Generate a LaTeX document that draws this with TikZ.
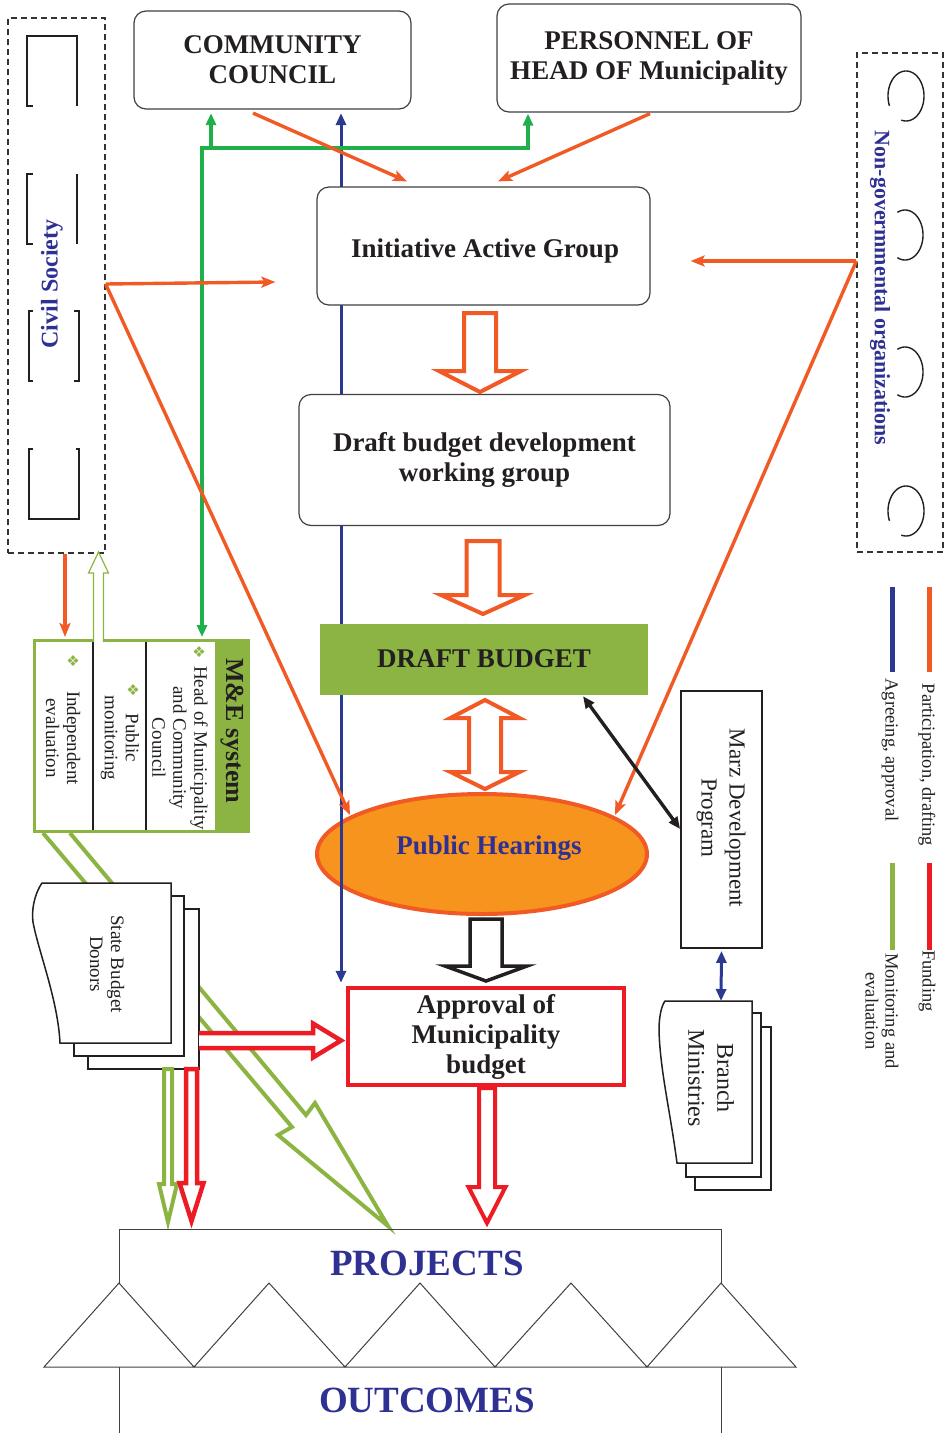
\documentclass[tikz,border=0pt]{standalone}
\usepackage{fontspec}
\setmainfont{Liberation Serif}
\newfontfamily\dejavu{DejaVu Sans}
\usetikzlibrary{arrows.meta,shapes.geometric}
\definecolor{orng}{HTML}{F15A24}
\definecolor{ellfill}{HTML}{F7941D}
\definecolor{olivec}{HTML}{8CB443}
\definecolor{grnc}{HTML}{1FAF4B}
\definecolor{navyc}{HTML}{2E3192}
\definecolor{bluec}{HTML}{2B3990}
\definecolor{redc}{HTML}{ED1C24}
\definecolor{txtc}{HTML}{231F20}
\newcommand{\fsz}[2]{\fontsize{#1}{#2}\selectfont}
\newcommand{\blkdown}[7]{\draw[#1] ({#2-#4},#3) -- ({#2-#4},#6) -- ({#2-#5},#6) -- (#2,#7) -- ({#2+#5},#6) -- ({#2+#4},#6) -- ({#2+#4},#3) -- cycle;}
\newcommand{\mebul}{{\dejavu\color{olivec}\fsz{15}{15}❖}}
\begin{document}
\begin{tikzpicture}[x=1pt,y=-1pt,line join=miter,
  >={Triangle[length=12pt,width=10pt]},
  rbox/.style={draw=black!75, line width=1.2pt, rounded corners=12pt, fill=white, inner sep=0pt, align=center, text=txtc, font=\fsz{27}{30}\bfseries},
  btext/.style={align=center, text=txtc, font=\fsz{27}{30}\bfseries},
  dbox/.style={draw=black!80, line width=1.2pt, dash pattern=on 6pt off 4pt, inner sep=0pt},
  brk/.style={draw=txtc, line width=1.6pt},
  oline/.style={draw=orng, line width=3.4pt, -{Stealth[length=14pt,width=11pt,inset=3pt]}},
  gline/.style={draw=grnc, line width=3.4pt},
  rtext/.style={rotate=-90, align=center, text=txtc, font=\fsz{19}{21}},
  page/.style={draw=txtc, line width=1.5pt, fill=white},
  lgtext/.style={rotate=-90, align=center, text=txtc, font=\fsz{18.5}{20}},
  arcl/.style={draw=txtc, line width=1.4pt}]
\useasboundingbox (0,0) rectangle (944,1433);

% ---- Civil society (dashed) ----
\node[dbox, minimum width=97pt, minimum height=535pt] (csbox) at (56.5,285.5) {};
\draw[brk] (33,106) -- (27,106) -- (27,36) -- (77,36) -- (77,106);
\draw[brk] (33,174) -- (27,174) -- (27,244) -- (33,244);
\draw[brk] (77,174) -- (77,244);
\draw[brk] (33,311) -- (29,311) -- (29,381) -- (33,381);
\draw[brk] (74,311) -- (79,311) -- (79,381) -- (74,381);
\draw[brk] (33,449) -- (29,449) -- (29,519) -- (79,519) -- (79,449) -- (76,449);
\node[rotate=90, text=navyc, font=\fsz{24}{28}\bfseries] (cstext) at (52,284) {Civil Society};

% ---- NGO (dashed) ----
\node[dbox, minimum width=86pt, minimum height=499pt] (ngobox) at (900,302.5) {};
\foreach \cy in {96,511}{
  \draw[arcl] plot[domain=157:465, samples=60, smooth] ({906+18*cos(\x)},{\cy+25*sin(\x)});
}
\foreach \cy in {235,372}{
  \draw[arcl] plot[domain=245:475, samples=60, smooth] ({905+18*cos(\x)},{\cy+25*sin(\x)});
}
\node[rotate=-90, text=navyc, font=\fsz{22}{26}\bfseries] (ngotext) at (880,288) {Non-govermmental organizations};

% ---- Public hearings ellipse ----
\node[ellipse, draw=orng, line width=4pt, fill=ellfill, minimum width=330pt, minimum height=120pt, inner sep=0pt] (ph) at (482,854) {};
\node[text=navyc, font=\fsz{27}{30}\bfseries] (phtext) at (489,848) {Public Hearings};

% ---- top boxes ----
\node[rbox, minimum width=277pt, minimum height=98pt] (cc) at (272.5,60) {COMMUNITY\\COUNCIL};
\node[rbox, minimum width=304pt, minimum height=108pt] (pers) at (649,58) {PERSONNEL OF\\HEAD OF Municipality};
\node[draw=redc, line width=4.5pt, fill=white, minimum width=276pt, minimum height=97pt, inner sep=0pt, align=center, text=txtc, font=\fsz{27}{30}\bfseries] (appr) at (486,1036.5) {Approval of\\Municipality\\budget};

% blue agreeing line (behind the boxes)
\draw[draw=bluec, line width=3pt, <->] ([xshift=68.5pt,yshift=-3.5pt]cc.south) -- ([xshift=-145pt,yshift=3pt]appr.north);

\node[rbox, minimum width=333pt, minimum height=118pt] (iag) at (483.5,246) {};
\node[btext] (iagtext) at (485,251) {Initiative Active Group};
\node[rbox, minimum width=371pt, minimum height=131pt] (ddev) at (484.5,460) {Draft budget development\\working group};
\node[fill=olivec, minimum width=328pt, minimum height=71pt, inner sep=0pt, text=txtc, font=\fsz{27}{30}\bfseries] (db) at (484,659) {DRAFT BUDGET};
\node[draw=txtc, line width=1.8pt, fill=white, minimum width=81pt, minimum height=257pt, inner sep=0pt] (marz) at (721.5,819.5) {};
\node[rtext, font=\fsz{23}{28}] (marztext) at (721,818) {Marz Development\\Program};

% ---- block arrows in the main column ----
\blkdown{draw=orng, line width=4pt, fill=white}{480}{313}{16}{41}{371}{392}
\blkdown{draw=orng, line width=4pt, fill=white}{483}{541}{16.5}{42}{595}{614}
\draw[draw=orng, line width=4pt, fill=white] (485,700) -- (519.5,718) -- (501,718) -- (501,772) -- (519.5,772) -- (485,789) -- (450.5,772) -- (469,772) -- (469,718) -- (450.5,718) -- cycle;
\blkdown{draw=txtc, line width=3.5pt, fill=white}{486}{919}{16}{41}{966}{981}
\blkdown{draw=redc, line width=4pt, fill=white}{487}{1088}{8}{18.5}{1187}{1223}

% ---- M&E system ----
\draw[draw=olivec, line width=4pt, fill=white] (43,833) -- (292,1127) -- (278,1135) -- (388,1226) -- (315,1103) -- (306,1115) -- (70,833);
\node[draw=olivec, line width=3pt, fill=white, minimum width=214pt, minimum height=191pt, inner sep=0pt] (me) at (141.5,736) {};
\fill[olivec] (215,639) rectangle (250,833);
\draw[txtc, line width=1.5pt] (93,642) -- (93,830);
\draw[txtc, line width=1.5pt] (146,642) -- (146,830);
\node[rotate=-90, text=txtc, font=\fsz{26}{28}\bfseries] (metitle) at (232,731) {M\&E system};
\node[inner sep=0pt] (b1) at (73,661) {\mebul};
\node[inner sep=0pt] (b2) at (133,690) {\mebul};
\node[inner sep=0pt] (b3) at (199,652) {\mebul};
\node[rtext] (c1) at (63,738) {Independent\\evaluation};
\node[rtext] (c2) at (120,738) {Public\\monitoring};
\node[rtext] (c3) at (180,748) {Head of Municipality\\and Community\\Council};
% hollow olive arrow up to civil society
\draw[draw=olivec, line width=1.2pt, fill=white] (93.5,642) -- (93.5,573) -- (88.5,573) -- (98.5,552) -- (108.5,573) -- (103.5,573) -- (103.5,642);

% ---- green lines ----
\draw[gline, <->] ([xshift=60.5pt,yshift=2pt]me.north) -- (202,148) -- (528,148) -- ([xshift=-121pt,yshift=-1pt]pers.south);
\draw[gline, ->] (211,148) -- ([xshift=-61.5pt,yshift=-3.5pt]cc.south);

% ---- orange participation lines ----
\draw[oline] ([xshift=-19.5pt,yshift=-3.5pt]cc.south) -- ([xshift=-76.5pt,yshift=5pt]iag.north);
\draw[oline] ([xshift=1pt,yshift=-1pt]pers.south) -- ([xshift=14.5pt,yshift=5pt]iag.north);
\draw[oline] ([yshift=1.5pt]csbox.east) -- ([xshift=-41pt,yshift=-36pt]iag.west);
\draw[oline] ([yshift=1.5pt]csbox.east) -- ([xshift=-132pt,yshift=39pt]ph.center);
\draw[oline] ([yshift=41.5pt]ngobox.west) -- ([xshift=40pt,yshift=-15pt]iag.east);
\draw[oline] ([yshift=41.5pt]ngobox.west) -- ([xshift=133pt,yshift=39pt]ph.center);
\draw[oline] ([xshift=8.5pt]csbox.south) -- ([xshift=-76.5pt,yshift=2pt]me.north);

% ---- State Budget / Donors stack ----
\draw[page] (88,909) rectangle (199,1069);
\draw[page] (74,896) rectangle (184,1056);
\draw[page] (42,883) -- (171,883) -- (171,1043) -- (60,1043) .. controls (58,1000) and (38,950) .. (33,922) .. controls (31,905) and (37,890) .. (42,883) -- cycle;
\node[rtext] (sbd) at (107,964) {State Budget\\Donors};
\draw[draw=redc, line width=4.5pt, fill=white] (199,1033) -- (313,1033) -- (313,1023.5) -- (341,1040.5) -- (313,1057.5) -- (313,1048) -- (199,1048);
\blkdown{draw=olivec, line width=4pt, fill=white}{168}{1069}{4}{9}{1184}{1222}
\blkdown{draw=redc, line width=4.5pt, fill=white}{191.5}{1069}{5.5}{12}{1183}{1221}

% ---- Branch Ministries stack ----
\draw[page] (695,1027) rectangle (771,1190);
\draw[page] (686,1013) rectangle (761,1177);
\draw[page] (665,1001) -- (752,1001) -- (752,1163) -- (677,1163) .. controls (670,1110) and (660,1070) .. (659,1030) .. controls (659,1015) and (662,1005) .. (665,1001) -- cycle;
\coordinate (brtop) at (721,1001);
\node[rtext, font=\fsz{24}{29}] (brt) at (711,1078) {Branch\\Ministries};
\draw[draw=bluec, line width=3pt, <->] ([yshift=-2pt]marz.south) -- (brtop);
\draw[draw=txtc, line width=3.4pt, <->] ([xshift=99pt,yshift=-1.5pt]db.south) -- ([yshift=-9.5pt]marz.west);

% ---- Projects / Outcomes ----
\draw[draw=black!75, line width=1pt] (119,1283) -- (119,1229) -- (721,1229) -- (721,1283);
\draw[draw=black!75, line width=1pt] (44,1367) -- (119,1283) -- (194,1367) -- (269,1283) -- (345,1367) -- (420,1283) -- (495,1367) -- (571,1283) -- (647,1367) -- (721,1283) -- (796,1367) -- cycle;
\draw[draw=black!75, line width=1pt] (119,1367) -- (119,1436);
\draw[draw=black!75, line width=1pt] (721,1367) -- (721,1436);
\node[text=navyc, font=\fsz{37}{40}\bfseries] (proj) at (427,1263) {PROJECTS};
\node[text=navyc, font=\fsz{37}{40}\bfseries] (outc) at (427,1400) {OUTCOMES};

% ---- legend ----
\draw[orng, line width=5pt] (929,587) -- (929,672);
\draw[bluec, line width=5pt] (892,587) -- (892,672);
\draw[redc, line width=5pt] (929,863) -- (929,950);
\draw[olivec, line width=5pt] (892,863) -- (892,950);
\node[lgtext] (lg1) at (927,765) {Participation, drafting};
\node[lgtext] (lg2) at (890,750) {Agreeing, approval};
\node[lgtext] (lg3) at (927,981) {Funding};
\node[lgtext] (lg4) at (882,1011) {Monitoring and\\evaluation};
\end{tikzpicture}
\end{document}
